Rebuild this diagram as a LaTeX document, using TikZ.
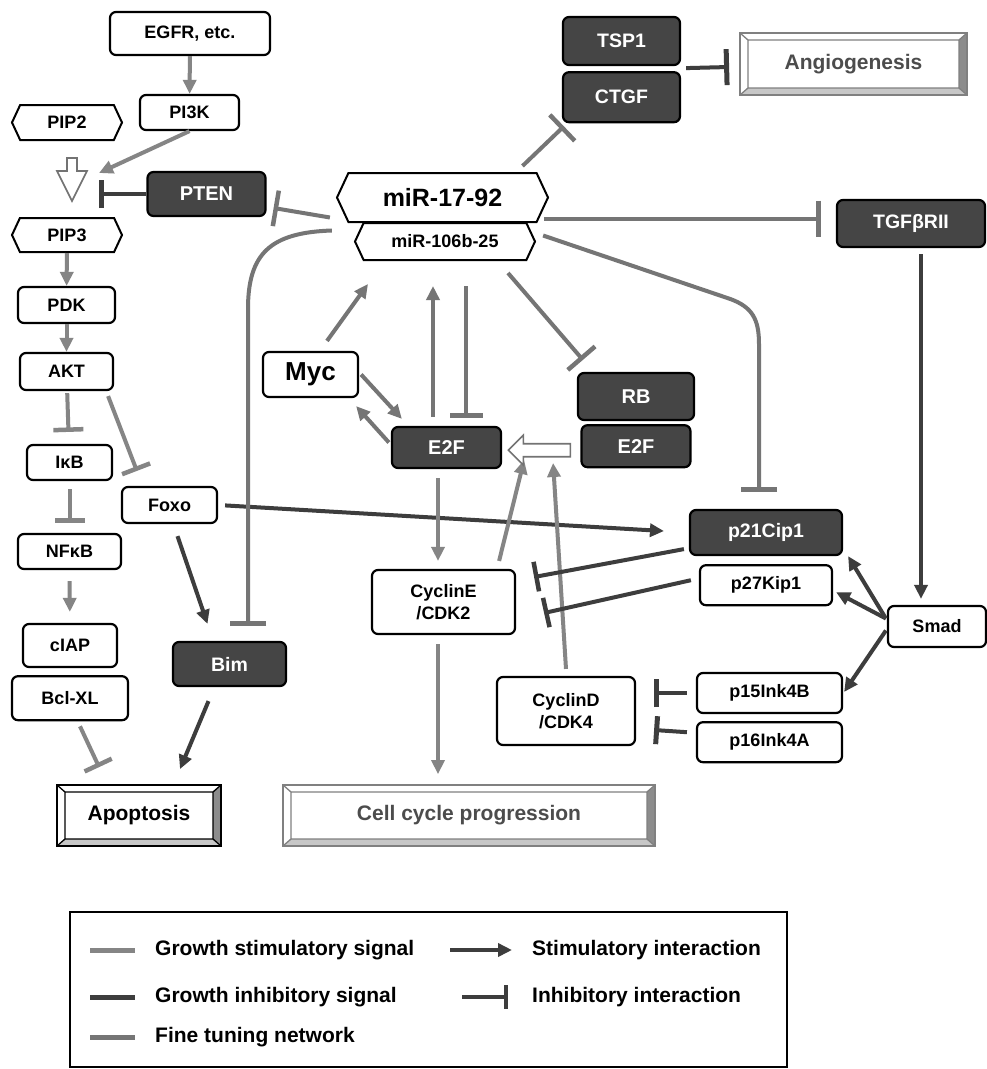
\documentclass[tikz,border=0pt]{standalone}
\usepackage{fontspec}
\setmainfont{Liberation Sans}
\usetikzlibrary{positioning,arrows.meta,shapes.symbols,calc}
\definecolor{dkfill}{gray}{0.27}
\definecolor{stimc}{gray}{0.52}
\definecolor{inhc}{gray}{0.24}
\definecolor{finec}{gray}{0.46}
\newcommand{\fsz}[1]{\fontsize{#1pt}{\dimexpr#1pt*6/5\relax}\selectfont}

\begin{document}
\begin{tikzpicture}[x=1pt,y=-1pt,
bx/.style={draw,line width=2.2pt,rounded corners=6pt,fill=white,inner sep=0pt,align=center,font=\bfseries\fsz{18}},
dk/.style={bx,fill=dkfill,text=white,font=\bfseries\fsz{19.5}},
hx/.style={draw,line width=2pt,signal,signal to=west and east,signal pointer angle=130,fill=white,inner sep=0pt,font=\bfseries\fsz{18}},
bev/.style={draw=#1,line width=1.8pt,inner sep=0pt,fill=white,path picture={
 \path (path picture bounding box.north west) coordinate (bnw) (path picture bounding box.south east) coordinate (bse);
 \path (bnw) ++(8,7) coordinate (inw) (bse) ++(-8,-7) coordinate (ise);
 \fill[black!45] (bse) -- (bse |- bnw) -- (ise |- inw) -- (ise) -- cycle;
 \fill[black!22] (bse) -- (ise) -- (inw |- ise) -- (bnw |- bse) -- cycle;
 \draw[#1,line width=1.3pt] (inw) rectangle (ise) (bnw) -- (inw) (bse |- bnw) -- (ise |- inw) (bnw |- bse) -- (inw |- ise) (bse) -- (ise);}},
sa/.style={stimc,line width=4pt,-{Triangle[length=14pt,width=13pt]}},
sb/.style={stimc,line width=4pt,-{Bar[width=30pt,line width=4.5pt]}},
fa/.style={finec,line width=4pt,-{Triangle[length=14pt,width=13pt]}},
fb/.style={finec,line width=4pt,-{Bar[width=36pt,line width=4.5pt]}},
da/.style={inhc,line width=4pt,-{Triangle[length=14pt,width=13pt]}},
db/.style={inhc,line width=4pt,-{Bar[width=30pt,line width=4.5pt]}},
hol/.style={draw=black!55,line width=1.6pt,fill=white,line join=miter},
lg/.style={inner sep=0pt,font=\bfseries\fsz{21}}]
\path[use as bounding box,fill=white] (0,0) rectangle (987,1069);
% PI3K / AKT side
\node[bx,minimum width=160pt,minimum height=43pt](egfr) at (190,33.5){EGFR, etc.};
\node[bx,minimum width=99pt,minimum height=35pt](pik) at (189.5,112.5){PI3K};
\node[hx,minimum width=110pt,minimum height=35pt](pip2) at (67,122.5){PIP2};
\node[dk,minimum width=118pt,minimum height=44pt,font=\bfseries\fsz{20}](pten) at (206.5,194){PTEN};
\node[hx,minimum width=110pt,minimum height=34pt](pip3) at (67,235){PIP3};
\node[bx,minimum width=97pt,minimum height=36pt](pdk) at (66.5,305){PDK};
\node[bx,minimum width=93pt,minimum height=37pt](akt) at (66.5,371.5){AKT};
\node[bx,minimum width=85pt,minimum height=35pt](ikb) at (69.5,462.5){IκB};
\node[bx,minimum width=103pt,minimum height=35pt](nfkb) at (69.5,551.5){NFκB};
\node[bx,minimum width=94pt,minimum height=43pt](ciap) at (70,645.5){cIAP};
\node[bx,minimum width=116pt,minimum height=44pt,below=7pt of ciap](bclxl){Bcl-XL};
\node[bx,minimum width=95pt,minimum height=36pt](foxo) at (169.5,505){Foxo};
\node[dk,minimum width=113pt,minimum height=44pt](bim) at (229.5,664){Bim};
\node[bev=black,minimum width=164pt,minimum height=61pt,font=\bfseries\fsz{21}](apo) at (139,815.5){Apoptosis};
% miRNA core
\node[hx,minimum width=211pt,minimum height=49pt,font=\bfseries\fsz{25}](mir) at (442.5,197.5){miR-17-92};
\node[hx,minimum width=180pt,minimum height=37pt](mirb) at (445,241.5){miR-106b-25};
\node[bx,minimum width=95pt,minimum height=45pt,font=\bfseries\fsz{26}](myc) at (310.5,374.5){Myc};
\node[dk,minimum width=109pt,minimum height=41pt,font=\bfseries\fsz{20}](e2f) at (446.5,447.5){E2F};
\node[dk,minimum width=116pt,minimum height=47pt,font=\bfseries\fsz{20}](rb) at (636,396.5){RB};
\node[dk,minimum width=109pt,minimum height=42pt,font=\bfseries\fsz{20},below=3pt of rb](e2fr){E2F};
\node[dk,minimum width=117pt,minimum height=48pt](tsp) at (621.5,41){TSP1};
\node[dk,minimum width=117pt,minimum height=50pt,below=5pt of tsp](ctgf){CTGF};
\node[bev=black!50,minimum width=227pt,minimum height=62pt,text=black!70,font=\bfseries\fsz{21}](angio) at (853.5,64){Angiogenesis};
\node[dk,minimum width=148pt,minimum height=47pt](tgf) at (911,223.5){TGFβRII};
% cell cycle side
\node[bx,minimum width=143pt,minimum height=64pt](cyce) at (443.5,602){CyclinE\\/CDK2};
\node[bx,minimum width=138pt,minimum height=68pt](cycd) at (566,711){CyclinD\\/CDK4};
\node[bev=black!50,minimum width=372pt,minimum height=61pt,text=black!70,font=\bfseries\fsz{21}](cell) at (469,815.5){Cell cycle progression};
\node[dk,minimum width=152pt,minimum height=45pt](p21) at (766,532.5){p21Cip1};
\node[bx,minimum width=132pt,minimum height=40pt,below=8pt of p21](p27){p27Kip1};
\node[bx,minimum width=98pt,minimum height=41pt](smad) at (937,626.5){Smad};
\node[bx,minimum width=145pt,minimum height=40pt](p15) at (769.5,693){p15Ink4B};
\node[bx,minimum width=145pt,minimum height=40pt,below=7pt of p15](p16){p16Ink4A};
\coordinate (pjoin) at (99,173);
% connectors
\draw[sa](egfr)--(pik);\draw[sa](pik.south)--(pjoin);
\draw[db,-{Bar[width=28pt,line width=5pt]}](pten.west)--(pten.west -| pjoin);
\draw[hol]($(pip2.south)+(0,17)$)--++(10,0)--++(0,13)--++(10,0)--++(-15,30)--++(-15,-30)--++(10,0)--cycle;
\draw[sa](pip3)--(pdk);\draw[sa](pdk)--(akt);
\draw[sb,shorten <=2pt,shorten >=12pt](akt)--(ikb);
\draw[sb]($(akt.south east)+(-6,5)$)--($(foxo.north west)+(16,-15)$);
\draw[sb,shorten <=8pt,shorten >=10pt](ikb)--(nfkb);
\draw[sa,shorten <=11pt,shorten >=11pt](nfkb)--(ciap);
\draw[sb]($(bclxl.south)+(10,5)$)--($(apo.north west)+(43,-17)$);
\draw[da]($(foxo.south)+(8,12)$)--($(bim.north)+(-22,-17)$);
\draw[da]($(bim.south)+(-21,14)$)--($(apo.north)+(41,-15)$);
\draw[da,shorten <=7pt,shorten >=25pt](foxo.east)--(p21.west);
\draw[fb]($(mir.west)+(-4,33)$) .. controls +(-62,2) and +(0,-55) .. ($(bim.north)+(18.5,-332)$)--($(bim.north)+(18.5,-15)$);
\draw[fb]($(mir.west)+(-6,20)$)--($(pten.east)+(7,14)$);
\draw[fb]($(mir.north)+(80,-6)$)--($(ctgf.south west)+(2,3)$);
\draw[fb]($(mir.east)+(-5,21)$)--($(tgf.west)+(-15,-5)$);
\draw[fb]($(mirb.east)+(7,-6)$)--($(p21.north)+(-36,-210)$) .. controls +(22,8) and +(0,-25) .. ($(p21.north)+(-7,-165)$)--($(p21.north)+(-7,-17)$);
\draw[fb]($(mirb.south)+(63,12)$)--($(rb.north west)+(6,-12)$);
\draw[fa]($(myc.north)+(16.5,-10)$)--($(mirb.south)+(-77,23)$);
\draw[fa]($(myc.east)+(2,0)$)--($(e2f.north west)+(11,-7)$);
\draw[fa]($(e2f.west)+(-2,-5)$)--($(myc.south east)+(-3,8)$);
\draw[fa]($(e2f.north)+(-13.5,-9)$)--($(mirb.south)+(-12,25)$);
\draw[fb,-{Bar[width=33pt,line width=4.5pt]}]($(mirb.south)+(21,25)$)--($(e2f.north)+(19.5,-8)$);
\draw[sa]($(e2f.south)+(-8.5,9)$)--($(cyce.north)+(-5.5,-8)$);
\draw[sa]($(cyce.south)+(-5.5,9)$)--($(cell.north)+(-31,-10)$);
\draw[sa]($(cyce.north east)+(-17,-8)$)--($(e2f.east)+(22,12.5)$);
\draw[sa]($(cycd.north)+(0,-7)$)--($(e2f.east)+(51,15.5)$);
\draw[hol]($(e2fr.west)+(-10,-2.5)$)--++(-47,0)--++(0,-8.5)--++(-15,15)--++(15,15)--++(0,-8.5)--++(47,0)--cycle;
\draw[db]($(p21.south west)+(-5,-7)$)--($(cyce.east)+(18,-25)$);
\draw[db]($(p27.west)+(-8,-5)$)--($(cyce.east)+(28,11)$);
\draw[db,-{Bar[width=28pt,line width=5pt]}]($(p15.west)+(-9,0)$)--($(cycd.east)+(18,-18)$);
\draw[db,-{Bar[width=28pt,line width=5pt]}]($(p16.west)+(-9,-10)$)--($(cycd.east)+(18,19)$);
\draw[da]($(tgf.south)+(10,6)$)--($(smad.north)+(-16,-6)$);
\draw[da]($(smad.west)+(-1,-8)$)--($(p21.south east)+(5,0)$);
\draw[da]($(smad.west)+(-1,-8)$)--($(p27.east)+(3,7)$);
\draw[da]($(smad.west)+(-1,4)$)--($(p15.east)+(1,-1)$);
\draw[db,-{Bar[width=36pt,line width=5pt]}]($(tsp.south east)+(5,2)$)--($(angio.west)+(-10,3)$);
% legend
\draw[line width=2.5pt](70,912) rectangle (787,1067);
\node[lg,anchor=west](l1) at (155,950){Growth stimulatory signal};
\node[lg,anchor=west](l2) at (155,997){Growth inhibitory signal};
\node[lg,anchor=west](l3) at (155,1037){Fine tuning network};
\node[lg,anchor=west](l4) at (532,950){Stimulatory interaction};
\node[lg,anchor=west](l5) at (532,997){Inhibitory interaction};
\draw[stimc,line width=5pt]($(l1.west)+(-65,0)$)--($(l1.west)+(-20,0)$);
\draw[inhc,line width=5pt]($(l2.west)+(-65,0)$)--($(l2.west)+(-20,0)$);
\draw[finec,line width=5pt]($(l3.west)+(-65,0)$)--($(l3.west)+(-20,0)$);
\draw[da]($(l4.west)+(-82,0)$)--($(l4.west)+(-20,0)$);
\draw[db,-{Bar[width=24pt,line width=4pt]}]($(l5.west)+(-70,0)$)--($(l5.west)+(-24,0)$);
\end{tikzpicture}
\end{document}
